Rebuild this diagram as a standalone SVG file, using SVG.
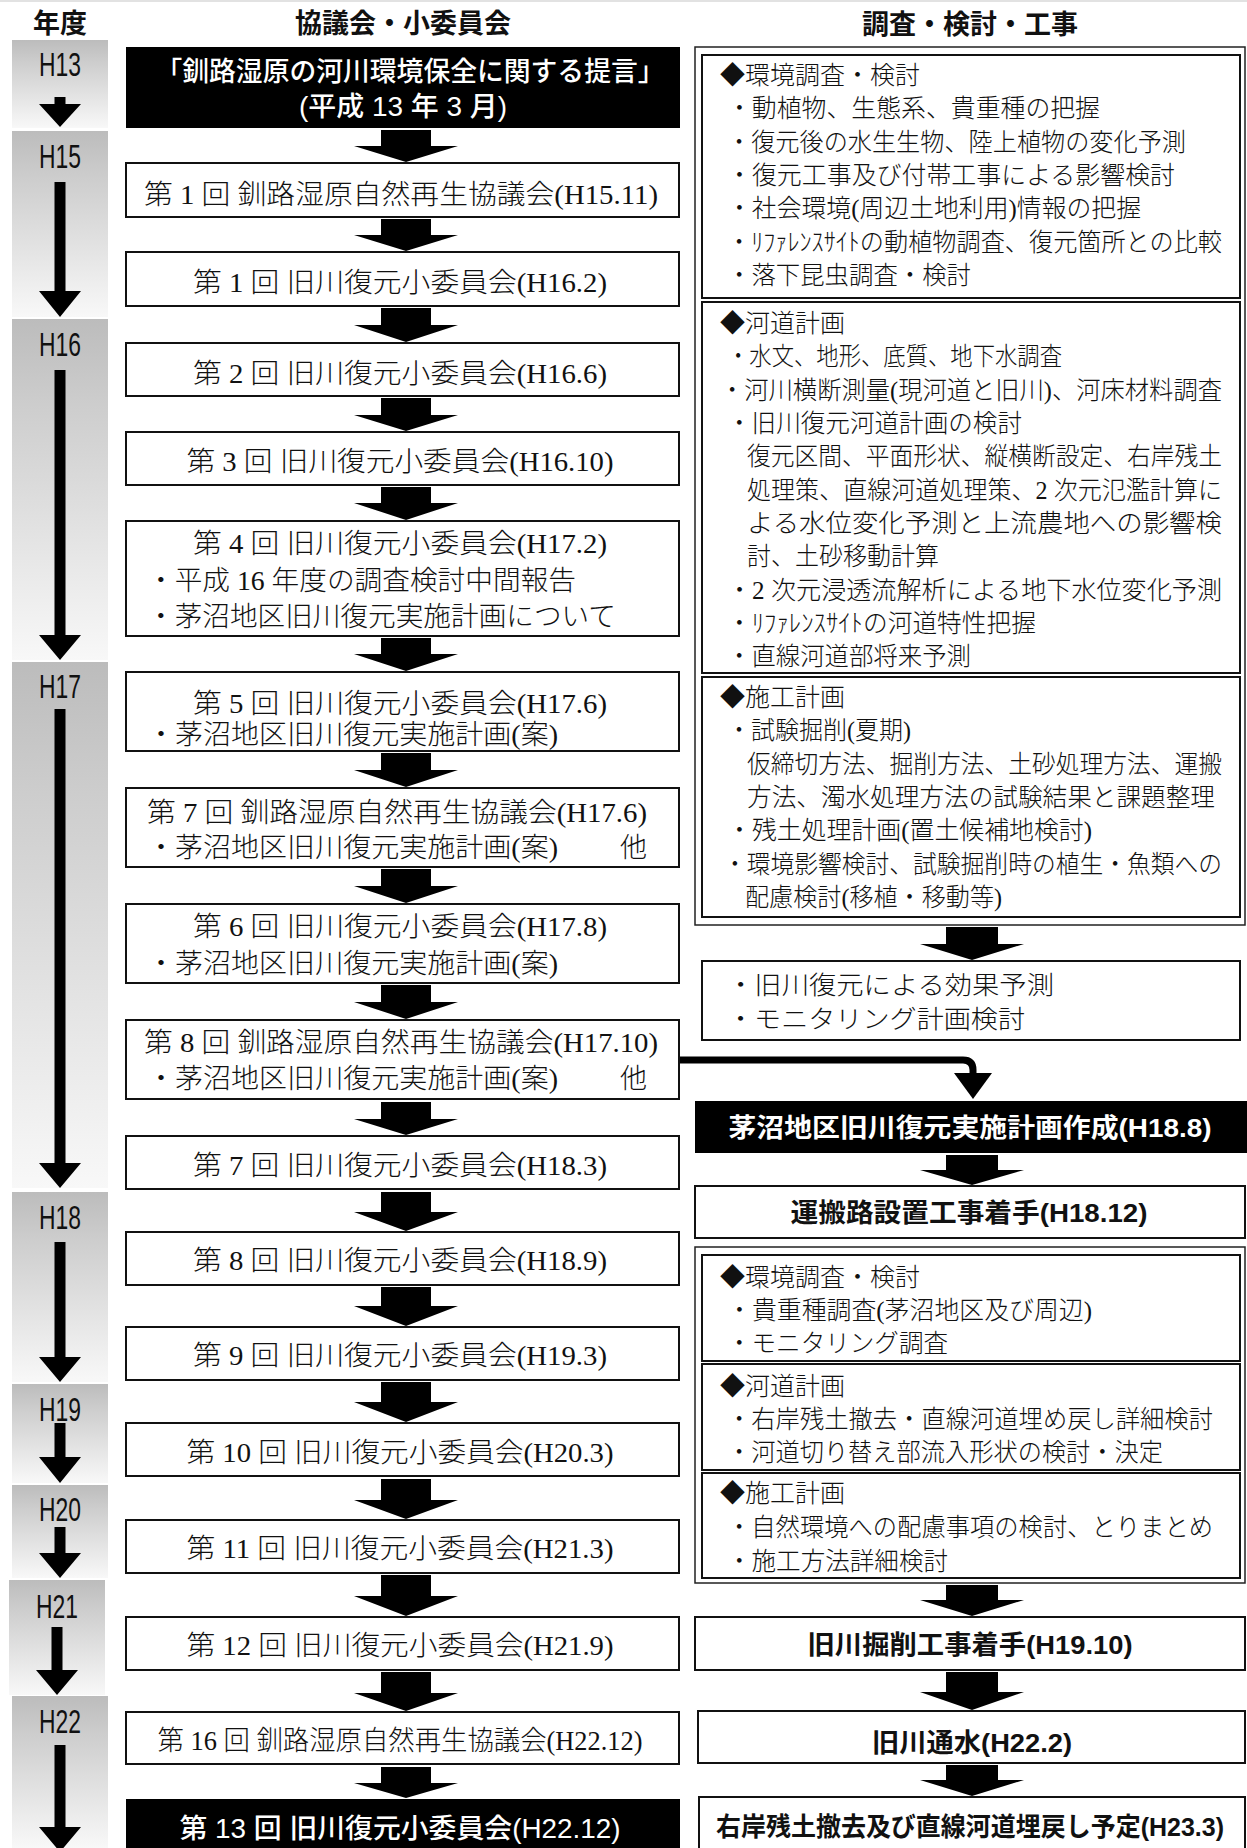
<svg xmlns="http://www.w3.org/2000/svg" width="1247" height="1848" viewBox="0 0 1247 1848">
<defs>
<linearGradient id="yr" x1="0" y1="0" x2="0" y2="1">
<stop offset="0" stop-color="#bcbcbc"/>
<stop offset="0.25" stop-color="#cdcdcd"/>
<stop offset="1" stop-color="#f8f8f8"/>
</linearGradient>
<style>
.yb{fill:url(#yr)}
.box{fill:#fff;stroke:#111;stroke-width:2}
.ob{fill:#fff;stroke:#222;stroke-width:1.5}
.blk{fill:#000}
.ar{fill:#000}
.m{font-family:"Liberation Serif","Noto Sans CJK JP",serif;font-size:27px;font-weight:300;fill:#111}
.r{font-size:25px}
.g{font-family:"Liberation Sans","Noto Sans CJK JP",sans-serif;font-size:26px;font-weight:bold;fill:#111}
.h{font-family:"Liberation Sans","Noto Sans CJK JP",sans-serif;font-size:27px;font-weight:bold;fill:#111;text-anchor:middle}
.y{font-family:"Liberation Sans","Noto Sans CJK JP",sans-serif;font-size:33px;fill:#111;text-anchor:middle}
.w{fill:#fff}
.c{text-anchor:middle}
</style>
</defs>
<rect width="1247" height="1848" fill="#fff"/>
<line x1="0" y1="1" x2="1247" y2="1" stroke="#e2e2e2" stroke-width="2"/>

<g id="headers">
<text class="h" x="60" y="33">年度</text>
<text class="h" x="403" y="33">協議会・小委員会</text>
<text class="h" x="970" y="34">調査・検討・工事</text>
</g>

<g id="years">
<g id="yH13"><rect class="yb" x="12" y="40" width="96" height="88"/><text class="y" x="60" y="76" textLength="42" lengthAdjust="spacingAndGlyphs">H13</text></g>
<g id="yH15"><rect class="yb" x="12" y="131" width="96" height="186"/><text class="y" x="60" y="168" textLength="42" lengthAdjust="spacingAndGlyphs">H15</text></g>
<g id="yH16"><rect class="yb" x="12" y="319" width="96" height="341"/><text class="y" x="60" y="356" textLength="42" lengthAdjust="spacingAndGlyphs">H16</text></g>
<g id="yH17"><rect class="yb" x="12" y="662" width="96" height="526"/><text class="y" x="60" y="698" textLength="42" lengthAdjust="spacingAndGlyphs">H17</text></g>
<g id="yH18"><rect class="yb" x="12" y="1192" width="96" height="190"/><text class="y" x="60" y="1229" textLength="42" lengthAdjust="spacingAndGlyphs">H18</text></g>
<g id="yH19"><rect class="yb" x="12" y="1384" width="96" height="99"/><text class="y" x="60" y="1421" textLength="42" lengthAdjust="spacingAndGlyphs">H19</text></g>
<g id="yH20"><rect class="yb" x="12" y="1485" width="96" height="93"/><text class="y" x="60" y="1521" textLength="42" lengthAdjust="spacingAndGlyphs">H20</text></g>
<g id="yH21"><rect class="yb" x="9" y="1580" width="96" height="115"/><text class="y" x="57" y="1618" textLength="42" lengthAdjust="spacingAndGlyphs">H21</text></g>
<g id="yH22"><rect class="yb" x="12" y="1696" width="96" height="152"/><text class="y" x="60" y="1733" textLength="42" lengthAdjust="spacingAndGlyphs">H22</text></g>
</g>

<g id="left">
<g id="n1"><rect class="blk" x="126" y="47" width="554" height="81"/>
<text class="g w c" style="font-weight:500;font-size:27px" x="410" y="81" textLength="509" lengthAdjust="spacingAndGlyphs">「釧路湿原の河川環境保全に関する提言」</text>
<text class="g w c" style="font-weight:500;font-size:27px" x="403" y="116" textLength="208" lengthAdjust="spacingAndGlyphs">(平成 13 年 3 月)</text></g>
<g id="n2"><rect class="box" x="126" y="163" width="553" height="54"/><text class="m c" x="401" y="204" textLength="514" lengthAdjust="spacingAndGlyphs">第 1 回  釧路湿原自然再生協議会(H15.11)</text></g>
<g id="n3"><rect class="box" x="126" y="252" width="553" height="54"/><text class="m c" x="400" y="292" textLength="414" lengthAdjust="spacingAndGlyphs">第 1 回  旧川復元小委員会(H16.2)</text></g>
<g id="n4"><rect class="box" x="126" y="343" width="553" height="53"/><text class="m c" x="400" y="383" textLength="414" lengthAdjust="spacingAndGlyphs">第 2 回  旧川復元小委員会(H16.6)</text></g>
<g id="n5"><rect class="box" x="126" y="432" width="553" height="53"/><text class="m c" x="400" y="471" textLength="427" lengthAdjust="spacingAndGlyphs">第 3 回  旧川復元小委員会(H16.10)</text></g>
<g id="n6"><rect class="box" x="126" y="521" width="553" height="115"/>
<text class="m c" x="400" y="553" textLength="414" lengthAdjust="spacingAndGlyphs">第 4 回  旧川復元小委員会(H17.2)</text>
<text class="m" x="147" y="590" textLength="429" lengthAdjust="spacingAndGlyphs">・平成 16 年度の調査検討中間報告</text>
<text class="m" x="147" y="626" textLength="469" lengthAdjust="spacingAndGlyphs">・茅沼地区旧川復元実施計画について</text></g>
<g id="n7"><rect class="box" x="126" y="672" width="553" height="79"/>
<text class="m c" x="400" y="713" textLength="414" lengthAdjust="spacingAndGlyphs">第 5 回  旧川復元小委員会(H17.6)</text>
<text class="m" x="147" y="744" textLength="411" lengthAdjust="spacingAndGlyphs">・茅沼地区旧川復元実施計画(案)</text></g>
<g id="n8"><rect class="box" x="126" y="788" width="553" height="79"/>
<text class="m c" x="397" y="822" textLength="500" lengthAdjust="spacingAndGlyphs">第 7 回  釧路湿原自然再生協議会(H17.6)</text>
<text class="m" x="147" y="857" textLength="411" lengthAdjust="spacingAndGlyphs">・茅沼地区旧川復元実施計画(案)</text>
<text class="m" x="620" y="857">他</text></g>
<g id="n9"><rect class="box" x="126" y="904" width="553" height="79"/>
<text class="m c" x="400" y="936" textLength="414" lengthAdjust="spacingAndGlyphs">第 6 回  旧川復元小委員会(H17.8)</text>
<text class="m" x="147" y="973" textLength="411" lengthAdjust="spacingAndGlyphs">・茅沼地区旧川復元実施計画(案)</text></g>
<g id="n10"><rect class="box" x="126" y="1020" width="553" height="79"/>
<text class="m c" x="401" y="1052" textLength="514" lengthAdjust="spacingAndGlyphs">第 8 回  釧路湿原自然再生協議会(H17.10)</text>
<text class="m" x="147" y="1088" textLength="411" lengthAdjust="spacingAndGlyphs">・茅沼地区旧川復元実施計画(案)</text>
<text class="m" x="620" y="1088">他</text></g>
<g id="n11"><rect class="box" x="126" y="1136" width="553" height="53"/><text class="m c" x="400" y="1175" textLength="414" lengthAdjust="spacingAndGlyphs">第 7 回  旧川復元小委員会(H18.3)</text></g>
<g id="n12"><rect class="box" x="126" y="1232" width="553" height="53"/><text class="m c" x="400" y="1270" textLength="414" lengthAdjust="spacingAndGlyphs">第 8 回  旧川復元小委員会(H18.9)</text></g>
<g id="n13"><rect class="box" x="126" y="1327" width="553" height="53"/><text class="m c" x="400" y="1365" textLength="414" lengthAdjust="spacingAndGlyphs">第 9 回  旧川復元小委員会(H19.3)</text></g>
<g id="n14"><rect class="box" x="126" y="1423" width="553" height="53"/><text class="m c" x="400" y="1462" textLength="427" lengthAdjust="spacingAndGlyphs">第 10 回  旧川復元小委員会(H20.3)</text></g>
<g id="n15"><rect class="box" x="126" y="1520" width="553" height="53"/><text class="m c" x="400" y="1558" textLength="427" lengthAdjust="spacingAndGlyphs">第 11 回  旧川復元小委員会(H21.3)</text></g>
<g id="n16"><rect class="box" x="126" y="1617" width="553" height="53"/><text class="m c" x="400" y="1655" textLength="427" lengthAdjust="spacingAndGlyphs">第 12 回  旧川復元小委員会(H21.9)</text></g>
<g id="n17"><rect class="box" x="126" y="1712" width="553" height="52"/><text class="m c" x="400" y="1750" textLength="485" lengthAdjust="spacingAndGlyphs">第 16 回  釧路湿原自然再生協議会(H22.12)</text></g>
<g id="n18"><rect class="blk" x="126" y="1799" width="554" height="52"/><text class="g w c" style="font-weight:500;font-size:27px" x="400" y="1838" textLength="441" lengthAdjust="spacingAndGlyphs">第 13 回  旧川復元小委員会(H22.12)</text></g>
</g>

<g id="right">
<g id="rA"><rect class="ob" x="695" y="47" width="550" height="878"/>
<g id="rA1"><rect class="box" x="702" y="55" width="538" height="243"/>
<text class="m r" x="720" y="84">◆環境調査・検討</text>
<text class="m r" x="727" y="117" textLength="373" lengthAdjust="spacingAndGlyphs">・動植物、生態系、貴重種の把握</text>
<text class="m r" x="727" y="151" textLength="459" lengthAdjust="spacingAndGlyphs">・復元後の水生生物、陸上植物の変化予測</text>
<text class="m r" x="727" y="184" textLength="448" lengthAdjust="spacingAndGlyphs">・復元工事及び付帯工事による影響検討</text>
<text class="m r" x="727" y="217" textLength="414" lengthAdjust="spacingAndGlyphs">・社会環境(周辺土地利用)情報の把握</text>
<text class="m r" x="727" y="251" textLength="495" lengthAdjust="spacingAndGlyphs">・ﾘﾌｧﾚﾝｽｻｲﾄの動植物調査、復元箇所との比較</text>
<text class="m r" x="727" y="284" textLength="244" lengthAdjust="spacingAndGlyphs">・落下昆虫調査・検討</text></g>
<g id="rA2"><rect class="box" x="702" y="302" width="538" height="371"/>
<text class="m r" x="720" y="332">◆河道計画</text>
<text class="m r" x="727" y="365" textLength="335" lengthAdjust="spacingAndGlyphs">・水文、地形、底質、地下水調査</text>
<text class="m r" x="720" y="399" textLength="502" lengthAdjust="spacingAndGlyphs">・河川横断測量(現河道と旧川)、河床材料調査</text>
<text class="m r" x="727" y="432" textLength="295" lengthAdjust="spacingAndGlyphs">・旧川復元河道計画の検討</text>
<text class="m r" x="747" y="465" textLength="475" lengthAdjust="spacingAndGlyphs">復元区間、平面形状、縦横断設定、右岸残土</text>
<text class="m r" x="747" y="499" textLength="475" lengthAdjust="spacingAndGlyphs">処理策、直線河道処理策、2 次元氾濫計算に</text>
<text class="m r" x="747" y="532" textLength="475" lengthAdjust="spacingAndGlyphs">よる水位変化予測と上流農地への影響検</text>
<text class="m r" x="747" y="565" textLength="192" lengthAdjust="spacingAndGlyphs">討、土砂移動計算</text>
<text class="m r" x="727" y="599" textLength="495" lengthAdjust="spacingAndGlyphs">・2 次元浸透流解析による地下水位変化予測</text>
<text class="m r" x="727" y="632" textLength="309" lengthAdjust="spacingAndGlyphs">・ﾘﾌｧﾚﾝｽｻｲﾄの河道特性把握</text>
<text class="m r" x="727" y="665" textLength="244" lengthAdjust="spacingAndGlyphs">・直線河道部将来予測</text></g>
<g id="rA3"><rect class="box" x="702" y="677" width="538" height="240"/>
<text class="m r" x="720" y="706">◆施工計画</text>
<text class="m r" x="727" y="739" textLength="184" lengthAdjust="spacingAndGlyphs">・試験掘削(夏期)</text>
<text class="m r" x="747" y="773" textLength="475" lengthAdjust="spacingAndGlyphs">仮締切方法、掘削方法、土砂処理方法、運搬</text>
<text class="m r" x="747" y="806" textLength="468" lengthAdjust="spacingAndGlyphs">方法、濁水処理方法の試験結果と課題整理</text>
<text class="m r" x="727" y="839" textLength="365" lengthAdjust="spacingAndGlyphs">・残土処理計画(置土候補地検討)</text>
<text class="m r" x="723" y="873" textLength="499" lengthAdjust="spacingAndGlyphs">・環境影響検討、試験掘削時の植生・魚類への</text>
<text class="m r" x="745" y="906" textLength="257" lengthAdjust="spacingAndGlyphs">配慮検討(移植・移動等)</text></g>
</g>
<g id="rB"><rect class="box" x="702" y="961" width="538" height="79"/>
<text class="m r" x="727" y="994" textLength="327" lengthAdjust="spacingAndGlyphs">・旧川復元による効果予測</text>
<text class="m r" x="727" y="1028" textLength="298" lengthAdjust="spacingAndGlyphs">・モニタリング計画検討</text></g>
<g id="rC"><rect class="blk" x="695" y="1101" width="552" height="52"/><text class="g w c" x="970" y="1137" textLength="483" lengthAdjust="spacingAndGlyphs">茅沼地区旧川復元実施計画作成(H18.8)</text></g>
<g id="rD"><rect class="box" x="695" y="1186" width="550" height="52"/><text class="g c" x="969" y="1222" textLength="357" lengthAdjust="spacingAndGlyphs">運搬路設置工事着手(H18.12)</text></g>
<g id="rE"><rect class="ob" x="695" y="1247" width="550" height="336"/>
<g id="rE1"><rect class="box" x="702" y="1255" width="538" height="106"/>
<text class="m r" x="720" y="1286">◆環境調査・検討</text>
<text class="m r" x="727" y="1319" textLength="365" lengthAdjust="spacingAndGlyphs">・貴重種調査(茅沼地区及び周辺)</text>
<text class="m r" x="727" y="1352" textLength="221" lengthAdjust="spacingAndGlyphs">・モニタリング調査</text></g>
<g id="rE2"><rect class="box" x="702" y="1364" width="538" height="106"/>
<text class="m r" x="720" y="1395">◆河道計画</text>
<text class="m r" x="727" y="1428" textLength="486" lengthAdjust="spacingAndGlyphs">・右岸残土撤去・直線河道埋め戻し詳細検討</text>
<text class="m r" x="727" y="1461" textLength="436" lengthAdjust="spacingAndGlyphs">・河道切り替え部流入形状の検討・決定</text></g>
<g id="rE3"><rect class="box" x="702" y="1473" width="538" height="105"/>
<text class="m r" x="720" y="1502">◆施工計画</text>
<text class="m r" x="727" y="1536" textLength="486" lengthAdjust="spacingAndGlyphs">・自然環境への配慮事項の検討、とりまとめ</text>
<text class="m r" x="727" y="1570" textLength="221" lengthAdjust="spacingAndGlyphs">・施工方法詳細検討</text></g>
</g>
<g id="rF"><rect class="box" x="695" y="1617" width="550" height="53"/><text class="g c" x="970" y="1654" textLength="325" lengthAdjust="spacingAndGlyphs">旧川掘削工事着手(H19.10)</text></g>
<g id="rG"><rect class="box" x="698" y="1711" width="547" height="52"/><text class="g c" x="972" y="1752" textLength="200" lengthAdjust="spacingAndGlyphs">旧川通水(H22.2)</text></g>
<g id="rH"><rect class="box" x="699" y="1797" width="546" height="60"/><text class="g c" x="970" y="1836" textLength="508" lengthAdjust="spacingAndGlyphs">右岸残土撤去及び直線河道埋戻し予定(H23.3)</text></g>
</g>

<g id="connectors">
<g id="yearArrows" class="ar">
<path d="M54.5,97 H65.5 V104 H81 L60,127 L39,104 H54.5 Z"/>
<path d="M54.5,182 H65.5 V291 H81 L60,317 L39,291 H54.5 Z"/>
<path d="M54.5,370 H65.5 V635 H81 L60,660 L39,635 H54.5 Z"/>
<path d="M54.5,709 H65.5 V1163 H81 L60,1188 L39,1163 H54.5 Z"/>
<path d="M54.5,1242 H65.5 V1357 H81 L60,1382 L39,1357 H54.5 Z"/>
<path d="M54.5,1423 H65.5 V1457 H81 L60,1483 L39,1457 H54.5 Z"/>
<path d="M54.5,1527 H65.5 V1553 H81 L60,1578 L39,1553 H54.5 Z"/>
<path d="M51.5,1627 H62.5 V1670 H78 L57,1695 L36,1670 H51.5 Z"/>
<path d="M54.5,1745 H65.5 V1827 H81 L60,1852 L39,1827 H54.5 Z"/>
</g>
<g id="leftArrows" class="ar">
<path d="M381,130 H431 V146 H458 L406,162 L354,146 H381 Z"/>
<path d="M381,219 H431 V235 H458 L406,251 L354,235 H381 Z"/>
<path d="M381,308 H431 V325 H458 L406,342 L354,325 H381 Z"/>
<path d="M381,398 H431 V415 H458 L406,431 L354,415 H381 Z"/>
<path d="M381,487 H431 V503 H458 L406,520 L354,503 H381 Z"/>
<path d="M381,638 H431 V654 H458 L406,671 L354,654 H381 Z"/>
<path d="M381,753 H431 V770 H458 L406,787 L354,770 H381 Z"/>
<path d="M381,869 H431 V886 H458 L406,903 L354,886 H381 Z"/>
<path d="M381,985 H431 V1002 H458 L406,1019 L354,1002 H381 Z"/>
<path d="M381,1102 H431 V1119 H458 L406,1135 L354,1119 H381 Z"/>
<path d="M381,1192 H431 V1212 H458 L406,1231 L354,1212 H381 Z"/>
<path d="M381,1287 H431 V1306 H458 L406,1326 L354,1306 H381 Z"/>
<path d="M381,1382 H431 V1402 H458 L406,1422 L354,1402 H381 Z"/>
<path d="M381,1479 H431 V1500 H458 L406,1519 L354,1500 H381 Z"/>
<path d="M381,1575 H431 V1596 H458 L406,1616 L354,1596 H381 Z"/>
<path d="M381,1672 H431 V1693 H458 L406,1711 L354,1693 H381 Z"/>
<path d="M381,1767 H431 V1783 H458 L406,1798 L354,1783 H381 Z"/>
</g>
<g id="rightArrows" class="ar">
<path d="M946,927 H998 V944 H1024 L972,960 L920,944 H946 Z"/>
<path d="M946,1155 H998 V1170 H1024 L972,1185 L920,1170 H946 Z"/>
<path d="M946,1585 H998 V1600 H1024 L972,1616 L920,1600 H946 Z"/>
<path d="M946,1672 H998 V1692 H1024 L972,1710 L920,1692 H946 Z"/>
<path d="M946,1765 H998 V1780 H1024 L972,1796 L920,1780 H946 Z"/>
</g>
<g id="elbow">
<path d="M680,1060 H963 Q973,1060 973,1070 V1075" fill="none" stroke="#000" stroke-width="7"/>
<path class="ar" d="M954,1073 H992 L973,1099 Z"/>
</g>
</g>
</svg>
